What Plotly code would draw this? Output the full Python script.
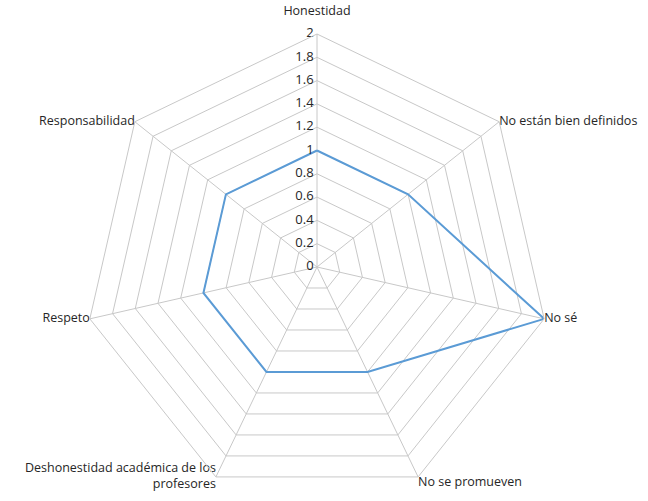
import plotly.graph_objects as go

categories = ["Honestidad", "No están bien definidos", "No sé", "No se promueven",
              "Deshonestidad académica de los profesores", "Respeto", "Responsabilidad"]
label_text = ["Honestidad<br>&nbsp;", "No están bien definidos", "No sé", "No se promueven",
              "Deshonestidad académica de los<br>profesores", "Respeto", "Responsabilidad"]
label_pos = ["top center", "middle right", "middle right", "bottom right",
             "middle left", "middle left", "middle left"]
values = [1, 1, 2, 1, 1, 1, 1]
tick_vals = [0, 0.2, 0.4, 0.6, 0.8, 1, 1.2, 1.4, 1.6, 1.8, 2]
tick_text = ["0", "0.2", "0.4", "0.6", "0.8", "1", "1.2", "1.4", "1.6", "1.8", "2"]
r_max = 2

fig = go.Figure()
fig.add_trace(go.Scatterpolar(
    r=values + values[:1],
    theta=categories + categories[:1],
    mode="lines",
    line=dict(color="#5b9bd5", width=2),
    showlegend=False, hoverinfo="skip",
))
# radial tick labels along the top spoke
fig.add_trace(go.Scatterpolar(
    r=[max(v, 1e-6) for v in tick_vals],
    theta=[categories[0]] * len(tick_vals),
    mode="text", text=[t + "&nbsp;" for t in tick_text], textposition="middle left",
    textfont=dict(size=13, color="#262626"),
    showlegend=False, hoverinfo="skip", cliponaxis=False,
))
# category labels
fig.add_trace(go.Scatterpolar(
    r=[r_max] * len(categories),
    theta=categories,
    mode="text", text=label_text, textposition=label_pos,
    textfont=dict(size=12.5, color="#262626"),
    showlegend=False, hoverinfo="skip", cliponaxis=False,
))

grid = "#c8c8c8"
fig.update_layout(
    width=648, height=501,
    margin=dict(l=84, r=98, t=34, b=1),
    paper_bgcolor="white",
    plot_bgcolor="white",
    font=dict(family="Open Sans, Liberation Sans, sans-serif", size=12, color="#262626"),
    polar=dict(
        bgcolor="white",
        gridshape="linear",
        angularaxis=dict(
            categoryarray=categories, categoryorder="array",
            rotation=90, direction="clockwise",
            linecolor=grid, gridcolor=grid, linewidth=1,
            ticks="", showticklabels=False,
        ),
        radialaxis=dict(
            range=[0, r_max], tickvals=tick_vals,
            angle=90, showticklabels=False,
            showline=False, gridcolor=grid, ticks="",
        ),
    ),
)
fig.write_html("out.html")
